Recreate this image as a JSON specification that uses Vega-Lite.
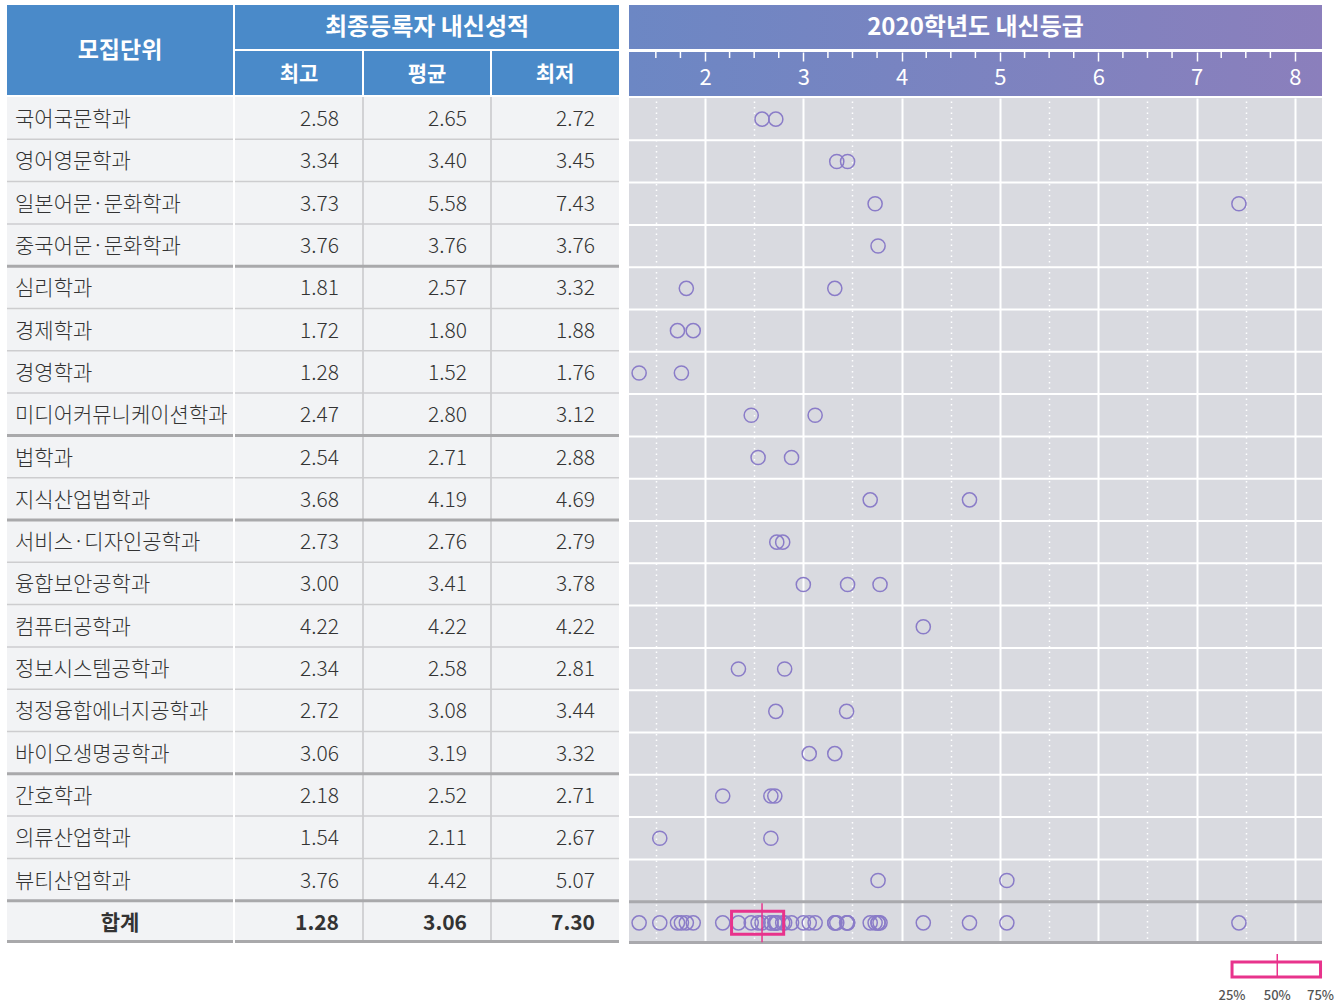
{
  "$schema": "https://vega.github.io/schema/vega-lite/v6.json",
  "background": "white",
  "padding": {"left": 7, "top": 5, "right": 0, "bottom": 0},
  "config": {
    "view": {"stroke": null},
    "font": "Noto Sans CJK KR",
    "text": {"font": "Noto Sans CJK KR"},
    "axis": {"labelFont": "Noto Sans CJK KR"}
  },
  "datasets": {
    "rows": [
      {"no": 1, "name": "국어국문학과", "최고": 2.58, "평균": 2.65, "최저": 2.72},
      {"no": 2, "name": "영어영문학과", "최고": 3.34, "평균": 3.40, "최저": 3.45},
      {"no": 3, "name": "일본어문·문화학과", "최고": 3.73, "평균": 5.58, "최저": 7.43},
      {"no": 4, "name": "중국어문·문화학과", "최고": 3.76, "평균": 3.76, "최저": 3.76},
      {"no": 5, "name": "심리학과", "최고": 1.81, "평균": 2.57, "최저": 3.32},
      {"no": 6, "name": "경제학과", "최고": 1.72, "평균": 1.80, "최저": 1.88},
      {"no": 7, "name": "경영학과", "최고": 1.28, "평균": 1.52, "최저": 1.76},
      {"no": 8, "name": "미디어커뮤니케이션학과", "최고": 2.47, "평균": 2.80, "최저": 3.12},
      {"no": 9, "name": "법학과", "최고": 2.54, "평균": 2.71, "최저": 2.88},
      {"no": 10, "name": "지식산업법학과", "최고": 3.68, "평균": 4.19, "최저": 4.69},
      {"no": 11, "name": "서비스·디자인공학과", "최고": 2.73, "평균": 2.76, "최저": 2.79},
      {"no": 12, "name": "융합보안공학과", "최고": 3.00, "평균": 3.41, "최저": 3.78},
      {"no": 13, "name": "컴퓨터공학과", "최고": 4.22, "평균": 4.22, "최저": 4.22},
      {"no": 14, "name": "정보시스템공학과", "최고": 2.34, "평균": 2.58, "최저": 2.81},
      {"no": 15, "name": "청정융합에너지공학과", "최고": 2.72, "평균": 3.08, "최저": 3.44},
      {"no": 16, "name": "바이오생명공학과", "최고": 3.06, "평균": 3.19, "최저": 3.32},
      {"no": 17, "name": "간호학과", "최고": 2.18, "평균": 2.52, "최저": 2.71},
      {"no": 18, "name": "의류산업학과", "최고": 1.54, "평균": 2.11, "최저": 2.67},
      {"no": 19, "name": "뷰티산업학과", "최고": 3.76, "평균": 4.42, "최저": 5.07},
      {"no": 20, "name": "합계", "최고": 1.28, "평균": 3.06, "최저": 7.30}
    ],
    "points": [
      {"no": 1, "v": 2.58}, {"no": 1, "v": 2.72},
      {"no": 2, "v": 3.34}, {"no": 2, "v": 3.45},
      {"no": 3, "v": 3.73}, {"no": 3, "v": 7.43},
      {"no": 4, "v": 3.76},
      {"no": 5, "v": 1.81}, {"no": 5, "v": 3.32},
      {"no": 6, "v": 1.72}, {"no": 6, "v": 1.88},
      {"no": 7, "v": 1.33}, {"no": 7, "v": 1.76},
      {"no": 8, "v": 2.47}, {"no": 8, "v": 3.12},
      {"no": 9, "v": 2.54}, {"no": 9, "v": 2.88},
      {"no": 10, "v": 3.68}, {"no": 10, "v": 4.69},
      {"no": 11, "v": 2.73}, {"no": 11, "v": 2.79},
      {"no": 12, "v": 3.00}, {"no": 12, "v": 3.45}, {"no": 12, "v": 3.78},
      {"no": 13, "v": 4.22},
      {"no": 14, "v": 2.34}, {"no": 14, "v": 2.81},
      {"no": 15, "v": 2.72}, {"no": 15, "v": 3.44},
      {"no": 16, "v": 3.06}, {"no": 16, "v": 3.32},
      {"no": 17, "v": 2.18}, {"no": 17, "v": 2.67}, {"no": 17, "v": 2.71},
      {"no": 18, "v": 1.54}, {"no": 18, "v": 2.67},
      {"no": 19, "v": 3.76}, {"no": 19, "v": 5.07}
    ],
    "minorticks": [
      {"t": 1.5}, {"t": 1.75}, {"t": 2.25}, {"t": 2.5}, {"t": 2.75}, {"t": 3.25}, {"t": 3.5}, {"t": 3.75},
      {"t": 4.25}, {"t": 4.5}, {"t": 4.75}, {"t": 5.25}, {"t": 5.5}, {"t": 5.75}, {"t": 6.25}, {"t": 6.5},
      {"t": 6.75}, {"t": 7.25}, {"t": 7.5}, {"t": 7.75}
    ],
    "groups": [{"no": 5}, {"no": 9}, {"no": 11}, {"no": 17}, {"no": 20}],
    "box": [{"no": 20, "q1": 2.27, "median": 2.58, "q3": 2.80}],
    "legendbox": [{"lo": 7.36, "mid": 7.82, "hi": 8.26}],
    "legendlabels": [{"label": "25%", "v": 7.36}, {"label": "50%", "v": 7.82}, {"label": "75%", "v": 8.26}]
  },
  "hconcat": [
    {
      "hconcat": [
        {
          "vconcat": [
            {
              "width": 226, "height": 90,
              "view": {"fill": "#4a8ac9", "stroke": null},
              "data": {"values": [{"t": "모집단위"}]},
              "mark": {"type": "text", "color": "white", "fontSize": 23, "fontWeight": "bold", "dy": 1},
              "encoding": {"text": {"field": "t"}}
            },
            {
              "width": 226, "height": 846,
              "view": {"fill": "#f2f3f5", "stroke": null},
              "data": {"name": "rows"},
              "layer": [
                {
                  "transform": [{"filter": "datum.no < 20"}],
                  "mark": {"type": "text", "align": "left", "x": 0, "dx": 8, "dy": 2, "fontSize": 21, "fontWeight": 300, "color": "#333333"},
                  "encoding": {
                    "y": {"field": "no", "type": "ordinal", "scale": {"type": "band", "domain": [1,2,3,4,5,6,7,8,9,10,11,12,13,14,15,16,17,18,19,20], "paddingInner": 0, "paddingOuter": 0}, "axis": null},
                    "text": {"field": "name"}
                  }
                },
                {
                  "transform": [{"filter": "datum.no == 20"}],
                  "mark": {"type": "text", "align": "center", "dy": 2, "fontSize": 21, "fontWeight": "bold", "color": "#333333"},
                  "encoding": {
                    "y": {"field": "no", "type": "ordinal", "axis": null},
                    "text": {"field": "name"}
                  }
                },
                {
                  "transform": [{"filter": "datum.no < 20"}],
                  "mark": {"type": "rule", "color": "#cdcdcf", "strokeWidth": 1.5, "clip": true},
                  "encoding": {"y": {"field": "no", "type": "ordinal", "bandPosition": 1, "axis": null}}
                },
                {
                  "data": {"name": "groups"},
                  "mark": {"type": "rule", "color": "#a9a9ab", "strokeWidth": 3, "clip": true},
                  "encoding": {"y": {"field": "no", "type": "ordinal", "bandPosition": 0, "axis": null}}
                },
                {
                  "transform": [{"filter": "datum.no == 20"}],
                  "mark": {"type": "rule", "color": "#a9a9ab", "strokeWidth": 3, "yOffset": -1.5, "clip": true},
                  "encoding": {"y": {"field": "no", "type": "ordinal", "bandPosition": 1, "axis": null}}
                }
              ]
            }
          ],
          "spacing": 2
        },
        {
          "vconcat": [
            {
              "width": 384, "height": 44,
              "view": {"fill": "#4a8ac9", "stroke": null},
              "data": {"values": [{"t": "최종등록자 내신성적"}]},
              "mark": {"type": "text", "color": "white", "fontSize": 24, "fontWeight": "bold", "dy": 1},
              "encoding": {"text": {"field": "t"}}
            },
            {
              "width": 384, "height": 44,
              "view": {"fill": "#4a8ac9", "stroke": null},
              "data": {"values": [{"col": "최고"}, {"col": "평균"}, {"col": "최저"}]},
              "layer": [
                {
                  "mark": {"type": "text", "color": "white", "fontSize": 21, "fontWeight": "bold", "dy": 2},
                  "encoding": {
                    "x": {"field": "col", "type": "nominal", "scale": {"type": "band", "domain": ["최고", "평균", "최저"], "paddingInner": 0, "paddingOuter": 0}, "axis": null},
                    "text": {"field": "col"}
                  }
                },
                {
                  "transform": [{"filter": "datum.col != '최고'"}],
                  "mark": {"type": "rule", "color": "white", "strokeWidth": 2, "clip": true},
                  "encoding": {"x": {"field": "col", "type": "nominal", "bandPosition": 0, "axis": null}}
                }
              ]
            },
            {
              "width": 384, "height": 846,
              "view": {"fill": "#f2f3f5", "stroke": null},
              "data": {"name": "rows"},
              "layer": [
                {
                  "transform": [{"filter": "datum.no < 20"}, {"fold": ["최고", "평균", "최저"], "as": ["col", "val"]}],
                  "mark": {"type": "text", "align": "right", "dx": -24, "dy": 2, "fontSize": 21, "fontWeight": 300, "color": "#333333"},
                  "encoding": {
                    "x": {"field": "col", "type": "nominal", "bandPosition": 1, "scale": {"type": "band", "domain": ["최고", "평균", "최저"], "paddingInner": 0, "paddingOuter": 0}, "axis": null},
                    "y": {"field": "no", "type": "ordinal", "scale": {"type": "band", "domain": [1,2,3,4,5,6,7,8,9,10,11,12,13,14,15,16,17,18,19,20], "paddingInner": 0, "paddingOuter": 0}, "axis": null},
                    "text": {"field": "val", "type": "quantitative", "format": ".2f"}
                  }
                },
                {
                  "transform": [{"filter": "datum.no == 20"}, {"fold": ["최고", "평균", "최저"], "as": ["col", "val"]}],
                  "mark": {"type": "text", "align": "right", "dx": -24, "dy": 2, "fontSize": 21, "fontWeight": "bold", "color": "#333333"},
                  "encoding": {
                    "x": {"field": "col", "type": "nominal", "bandPosition": 1, "axis": null},
                    "y": {"field": "no", "type": "ordinal", "axis": null},
                    "text": {"field": "val", "type": "quantitative", "format": ".2f"}
                  }
                },
                {
                  "data": {"values": [{"col": "평균"}, {"col": "최저"}]},
                  "mark": {"type": "rule", "color": "#bdbdbf", "strokeWidth": 1.2, "clip": true},
                  "encoding": {"x": {"field": "col", "type": "nominal", "bandPosition": 0, "axis": null}}
                },
                {
                  "transform": [{"filter": "datum.no < 20"}],
                  "mark": {"type": "rule", "color": "#cdcdcf", "strokeWidth": 1.5, "clip": true},
                  "encoding": {"y": {"field": "no", "type": "ordinal", "bandPosition": 1, "axis": null}}
                },
                {
                  "data": {"name": "groups"},
                  "mark": {"type": "rule", "color": "#a9a9ab", "strokeWidth": 3, "clip": true},
                  "encoding": {"y": {"field": "no", "type": "ordinal", "bandPosition": 0, "axis": null}}
                },
                {
                  "transform": [{"filter": "datum.no == 20"}],
                  "mark": {"type": "rule", "color": "#a9a9ab", "strokeWidth": 3, "yOffset": -1.5, "clip": true},
                  "encoding": {"y": {"field": "no", "type": "ordinal", "bandPosition": 1, "axis": null}}
                }
              ]
            }
          ],
          "spacing": 2
        }
      ],
      "spacing": 2
    },
    {
      "vconcat": [
        {
          "vconcat": [
            {
              "width": 693, "height": 44,
              "data": {"values": [{"t": "2020학년도 내신등급"}]},
              "layer": [
                {
                  "mark": {"type": "rect", "x": 0, "x2": "width", "y": 0, "y2": "height",
                    "color": {"gradient": "linear", "x1": 0, "x2": 1, "y1": 0, "y2": 0, "stops": [{"offset": 0, "color": "#6c87c4"}, {"offset": 1, "color": "#8b7fbc"}]}}
                },
                {
                  "mark": {"type": "text", "color": "white", "fontSize": 24, "fontWeight": "bold", "dy": 1},
                  "encoding": {"text": {"field": "t"}}
                }
              ]
            },
            {
              "width": 693, "height": 44,
              "layer": [
                {
                  "data": {"values": [{"a": 1}]},
                  "mark": {"type": "rect", "y": 0, "y2": "height",
                    "color": {"gradient": "linear", "x1": 0, "x2": 1, "y1": 0, "y2": 0, "stops": [{"offset": 0, "color": "#6c87c4"}, {"offset": 1, "color": "#8b7fbc"}]}},
                  "encoding": {
                    "x": {"datum": 1.227, "type": "quantitative",
                      "scale": {"domain": [1.227, 8.275], "nice": false, "zero": false},
                      "axis": {
                        "orient": "bottom", "offset": -44, "title": null, "domain": false, "grid": false,
                        "values": [2, 3, 4, 5, 6, 7, 8],
                        "format": "d",
                        "tickColor": "white", "tickWidth": 1.5, "tickSize": 9,
                        "labelColor": "white", "labelFontSize": 22, "labelPadding": 6,
                        "labelFlush": false, "labelOverlap": false, "zindex": 1
                      }
                    },
                    "x2": {"datum": 8.275}
                  }
                },
                {
                  "data": {"name": "minorticks"},
                  "mark": {"type": "rule", "color": "white", "strokeWidth": 1.5, "y": 0, "y2": 6},
                  "encoding": {"x": {"field": "t", "type": "quantitative"}}
                }
              ]
            },
            {
              "width": 693, "height": 846,
              "view": {"fill": "#d9dae0", "stroke": null},
              "layer": [
                {
                  "data": {"name": "rows"},
                  "transform": [{"filter": "datum.no < 19"}],
                  "mark": {"type": "rule", "color": "white", "strokeWidth": 2, "clip": true},
                  "encoding": {"y": {"field": "no", "type": "ordinal", "bandPosition": 1, "scale": {"type": "band", "domain": [1,2,3,4,5,6,7,8,9,10,11,12,13,14,15,16,17,18,19,20], "paddingInner": 0, "paddingOuter": 0}, "axis": null}}
                },
                {
                  "data": {"values": [{"no": 20}]},
                  "mark": {"type": "rule", "color": "#a9a9ad", "strokeWidth": 3, "clip": true},
                  "encoding": {"y": {"field": "no", "type": "ordinal", "bandPosition": 0, "axis": null}}
                },
                {
                  "data": {"values": [{"no": 20}]},
                  "mark": {"type": "rule", "color": "#a9a9ad", "strokeWidth": 3, "yOffset": -1.5, "clip": true},
                  "encoding": {"y": {"field": "no", "type": "ordinal", "bandPosition": 1, "axis": null}}
                },
                {
                  "data": {"name": "points"},
                  "mark": {"type": "point", "shape": "circle", "filled": false, "size": 200, "stroke": "#8a7cc8", "strokeWidth": 1.5, "opacity": 1, "clip": true},
                  "encoding": {
                    "x": {"field": "v", "type": "quantitative",
                      "scale": {"domain": [1.227, 8.275], "nice": false, "zero": false},
                      "axis": {
                        "title": null, "labels": false, "ticks": false, "domain": false, "grid": true,
                        "values": [1.5, 2, 2.5, 3, 3.5, 4, 4.5, 5, 5.5, 6, 6.5, 7, 7.5, 8],
                        "gridColor": "white", "gridOpacity": 1,
                        "gridWidth": {"condition": {"test": "datum.value % 1 === 0", "value": 2}, "value": 1.5},
                        "gridDash": {"condition": {"test": "datum.value % 1 === 0", "value": []}, "value": [1.5, 4]}
                      }
                    },
                    "y": {"field": "no", "type": "ordinal", "axis": null}
                  }
                },
                {
                  "data": {"name": "points"},
                  "mark": {"type": "point", "shape": "circle", "filled": false, "size": 200, "stroke": "#8a7cc8", "strokeWidth": 1.5, "opacity": 1, "clip": true},
                  "encoding": {
                    "x": {"field": "v", "type": "quantitative"},
                    "y": {"datum": 20, "type": "ordinal"}
                  }
                },
                {
                  "data": {"name": "box"},
                  "mark": {"type": "bar", "size": 23, "fill": "transparent", "stroke": "#e8338c", "strokeWidth": 3, "clip": true},
                  "encoding": {
                    "x": {"field": "q1", "type": "quantitative"},
                    "x2": {"field": "q3"},
                    "y": {"field": "no", "type": "ordinal"}
                  }
                },
                {
                  "data": {"name": "box"},
                  "mark": {"type": "tick", "orient": "vertical", "size": 39, "thickness": 1.5, "color": "#e8338c", "opacity": 1, "clip": true},
                  "encoding": {
                    "x": {"field": "median", "type": "quantitative"},
                    "y": {"field": "no", "type": "ordinal"}
                  }
                }
              ]
            }
          ],
          "spacing": 2
        },
        {
          "width": 693, "height": 15,
          "layer": [
            {
              "data": {"name": "legendbox"},
              "mark": {"type": "rect", "y": 0, "y2": "height", "fill": "transparent", "stroke": "#e8338c", "strokeWidth": 3},
              "encoding": {
                "x": {"field": "lo", "type": "quantitative", "scale": {"domain": [1.227, 8.275], "nice": false, "zero": false}, "axis": null},
                "x2": {"field": "hi"}
              }
            },
            {
              "data": {"name": "legendbox"},
              "mark": {"type": "rule", "color": "#e8338c", "strokeWidth": 1.5, "yOffset": -8, "y2Offset": 9},
              "encoding": {"x": {"field": "mid", "type": "quantitative"}}
            },
            {
              "data": {"name": "legendlabels"},
              "mark": {"type": "text", "y": "height", "baseline": "top", "dy": 13, "fontSize": 13, "fontWeight": 500, "color": "#555555"},
              "encoding": {
                "x": {"field": "v", "type": "quantitative"},
                "text": {"field": "label"}
              }
            }
          ]
        }
      ],
      "spacing": 9
    }
  ],
  "spacing": 10
}
